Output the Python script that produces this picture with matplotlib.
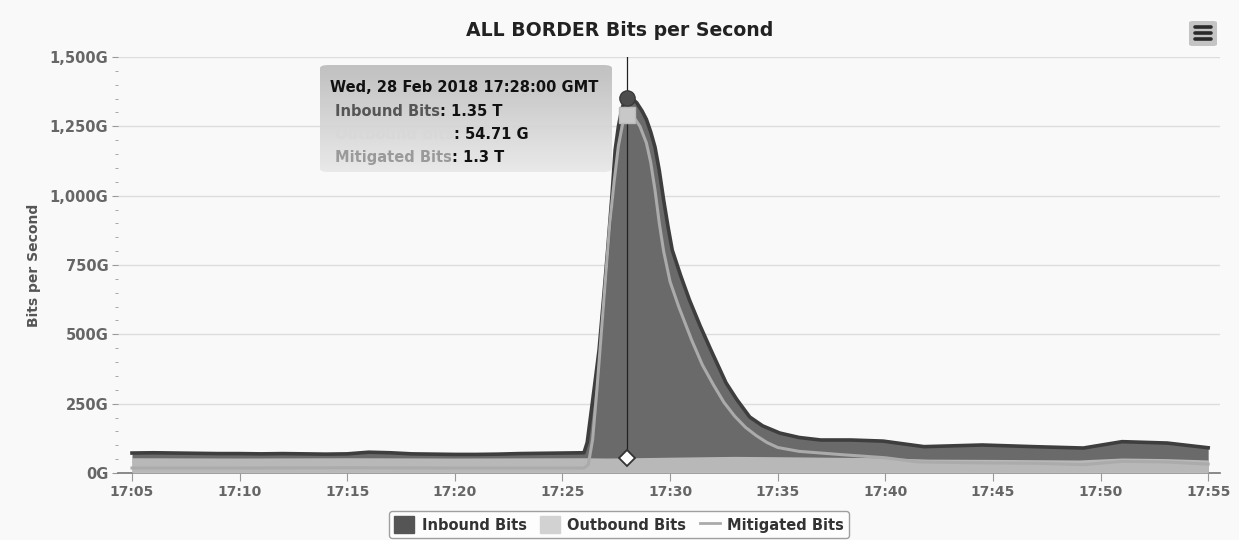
import matplotlib
matplotlib.use('Agg')
import matplotlib.pyplot as plt
import numpy as np
from matplotlib.patches import FancyBboxPatch, Patch
from matplotlib.lines import Line2D

# minutes after 17:00
inbound_t = [5, 6, 7, 8, 9, 10, 11, 12, 13, 14, 15, 16, 17, 18, 19, 20, 21, 22, 23, 24, 25, 26,
             26.15, 26.3, 26.5, 26.7, 26.9, 27.1, 27.3, 27.45, 27.6, 27.75, 27.9, 28.0, 28.2, 28.45,
             28.7, 28.9, 29.1, 29.3, 29.5, 29.7, 29.9, 30.1, 30.5, 30.9, 31.4, 31.9, 32.6, 33.1,
             33.7, 34.3, 35.1, 36, 37, 38.4, 39.9, 41.8, 44.5, 46.9, 49.2, 51, 53.1, 55]
inbound_g = [72, 73, 72, 71, 70, 70, 69, 70, 69, 68, 69, 75, 73, 69, 68, 67, 67, 68, 70, 71, 72, 73,
             110, 200, 320, 443, 620, 804, 1000, 1165, 1250, 1310, 1345, 1352, 1352, 1335,
             1305, 1275, 1230, 1175, 1090, 985, 890, 804, 710, 624, 530, 443, 325, 265,
             202, 170, 144, 128, 119, 119, 115, 95, 101, 95, 90, 113, 108, 91]

outbound_t = [5, 10, 15, 20, 26, 27, 28, 30, 33, 36, 40, 42, 45, 49, 51, 53, 55]
outbound_g = [55, 54, 55, 54, 55, 54, 54.7, 57, 60, 58, 55, 50, 49, 47, 54, 52, 47]

mitigated_t = [5, 10, 15, 20, 26, 26.2, 26.4, 26.6, 26.8, 27.0, 27.2, 27.4, 27.6, 27.8, 28.0, 28.3,
               28.6, 28.9, 29.1, 29.3, 29.5, 29.7, 30.0, 30.4, 31, 31.5, 32, 32.5, 33, 33.5, 34,
               34.5, 35, 36, 38, 40, 41.5, 44, 47, 49.2, 51, 53, 55]
mitigated_g = [18, 18, 19, 18, 18, 30, 120, 300, 500, 700, 900, 1050, 1180, 1260, 1291, 1285,
               1250, 1190, 1120, 1020, 900, 800, 690, 600, 480, 390, 320, 255, 205, 165, 135,
               110, 92, 78, 66, 55, 40, 37, 35, 30, 42, 40, 32]

x_ticks = [5, 10, 15, 20, 25, 30, 35, 40, 45, 50, 55]
x_labels = ['17:05', '17:10', '17:15', '17:20', '17:25', '17:30', '17:35', '17:40', '17:45', '17:50', '17:55']
y_ticks = [0, 250, 500, 750, 1000, 1250, 1500]
y_labels = ['0G', '250G', '500G', '750G', '1,000G', '1,250G', '1,500G']

W, H = 1239, 540
bg = '#f9f9f9'
plt.rcParams['font.family'] = ['DejaVu Sans']
fig = plt.figure(figsize=(W / 100, H / 100), dpi=100, facecolor=bg)
ax = fig.add_axes([118 / W, 1 - 473 / H, (1220 - 118) / W, (473 - 57) / H], facecolor=bg)

ax.fill_between(inbound_t, inbound_g, color='#6a6a6a', lw=0, zorder=2)
ax.plot(inbound_t, inbound_g, color='#3e3e3e', lw=2.6, zorder=3, solid_joinstyle='round')
ax.fill_between(outbound_t, outbound_g, color='#dadada', alpha=0.7, lw=0, zorder=4)
ax.plot(mitigated_t, mitigated_g, color='#ababab', lw=2.2, zorder=5, solid_joinstyle='round')

# crosshair and hover markers at 17:28
ax.plot([28, 28], [54.7, 1500], color='#222222', lw=0.9, zorder=6)
ax.plot(28, 1352, 'o', ms=11, mfc='#4d4d4d', mec='#3a3a3a', mew=1, zorder=7)
ax.plot(28, 1291, 's', ms=11, mfc='#c8c8c8', mec='#bbbbbb', mew=1, zorder=7)
ax.plot(28, 54.7, 'D', ms=8, mfc='white', mec='#333333', mew=1.3, zorder=7)

ax.set_xlim(4.35, 55.55)
ax.set_ylim(0, 1500)
ax.set_xticks(x_ticks)
ax.set_xticklabels(x_labels)
ax.set_yticks(y_ticks)
ax.set_yticklabels(y_labels)
ax.set_yticks(np.arange(0, 1501, 50), minor=True)
ax.grid(axis='y', color='#dddddd', lw=1, zorder=0)
for s in ['top', 'right', 'left']:
    ax.spines[s].set_visible(False)
ax.spines['bottom'].set_color('#777777')
ax.spines['bottom'].set_linewidth(1.2)
ax.tick_params(axis='x', length=6, color='#999999', labelsize=10, labelcolor='#666666', pad=3)
ax.tick_params(axis='y', which='major', length=4, color='#999999', labelsize=10.5,
               labelcolor='#666666', pad=3)
ax.tick_params(axis='y', which='minor', length=2, color='#999999')
for lab in ax.get_xticklabels() + ax.get_yticklabels():
    lab.set_fontweight('bold')
ax.set_ylabel('Bits per Second', fontsize=10, fontweight='bold', color='#555555', labelpad=6)

fig.text(620 / W, 1 - 30 / H, 'ALL BORDER Bits per Second', ha='center', va='center',
         fontsize=13.6, fontweight='bold', color='#222222')

# tooltip
tax = fig.add_axes([320 / W, 1 - 172 / H, 292 / W, 107 / H])
tax.set_xlim(0, 1)
tax.set_ylim(0, 1)
tax.axis('off')
grad = np.linspace(0, 1, 100).reshape(-1, 1)
img = tax.imshow(grad, cmap=matplotlib.colors.LinearSegmentedColormap.from_list('g', ['#bcbcbc', '#e8e8e8']),
                 extent=[0, 1, 0, 1], aspect='auto', origin='upper', alpha=0.92)
clip = FancyBboxPatch((0, 0), 1, 1, boxstyle='round,pad=0,rounding_size=0.03',
                      transform=tax.transAxes, facecolor='none', edgecolor='none')
tax.add_patch(clip)
img.set_clip_path(clip)

tax.text(10 / 292, 1 - 23 / 107, 'Wed, 28 Feb 2018 17:28:00 GMT', va='center', fontsize=10.5,
         fontweight='bold', color='#111111', transform=tax.transAxes)
rows = [('Inbound Bits', '#555555', ': 1.35 T', 51),
        ('Outbound Bits', '#d8d8d8', ': 54.71 G', 74),
        ('Mitigated Bits', '#9a9a9a', ': 1.3 T', 97)]
for name, c, val, yy in rows:
    t = tax.text(15 / 292, 1 - yy / 107, name, va='baseline', fontsize=10.5, fontweight='bold',
                 color=c, transform=tax.transAxes)
    tax.annotate(val, xy=(1, 0), xycoords=t, va='bottom', fontsize=10.5, fontweight='bold',
                 color='#111111', annotation_clip=False)

# menu button
fig.patches.append(FancyBboxPatch((1189 / W, 1 - 46 / H), 28 / W, 25 / H,
                                  boxstyle='round,pad=0,rounding_size=0.003',
                                  transform=fig.transFigure, facecolor='#c4c4c4', edgecolor='none'))
for yy in [27, 33, 39]:
    fig.lines.append(Line2D([1195 / W, 1211 / W], [1 - yy / H, 1 - yy / H], transform=fig.transFigure,
                            color='#2a2a2a', lw=2.6, solid_capstyle='round'))

handles = [Patch(facecolor='#555555', edgecolor='#555555'),
           Patch(facecolor='#d2d2d2', edgecolor='#d2d2d2'),
           Line2D([], [], color='#aaaaaa', lw=2)]
leg = fig.legend(handles, ['Inbound Bits', 'Outbound Bits', 'Mitigated Bits'], loc='upper center',
                 bbox_to_anchor=(619 / W, 1 - 504 / H), ncol=3, frameon=True, fancybox=True,
                 prop={'size': 10.5, 'weight': 'bold'}, handlelength=1.4, handleheight=1.4,
                 columnspacing=0.9, handletextpad=0.5, borderpad=0.35, facecolor='white',
                 edgecolor='#888888')
for txt in leg.get_texts():
    txt.set_color('#333333')
leg.get_frame().set_linewidth(1)

fig.savefig('out.png', dpi=100, facecolor=bg)
